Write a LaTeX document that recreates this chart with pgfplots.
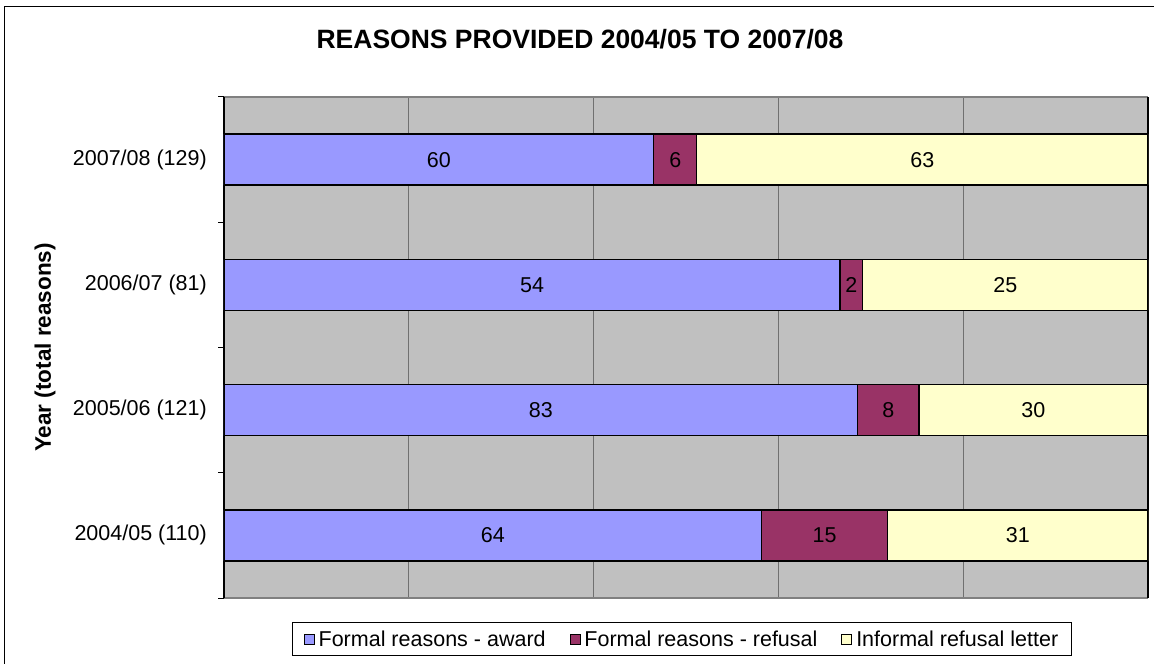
\documentclass[border=0pt]{standalone}
\usepackage{pgfplots}
\usepackage{pgfplotstable}
\usepackage{fontspec}
\setmainfont{Liberation Sans}
\pgfplotsset{compat=1.18}
\definecolor{award}{HTML}{9999FF}
\definecolor{refusal}{HTML}{993366}
\definecolor{informal}{HTML}{FFFFCC}
\definecolor{plotbg}{HTML}{C0C0C0}
\definecolor{gridc}{HTML}{707070}

% counts per year; bars are shown as shares of the total
\pgfplotstableread{
yr award refusal informal total
0  64   15      31       110
1  83   8       30       121
2  54   2       25       81
3  60   6       63       129
}\reasons

\pgfplotsset{
  frame/.style={
    at={(224pt,66pt)}, anchor=south west,
    scale only axis,
    width=924pt, height=501pt,
    xmin=0, xmax=100,
    ymin=-0.5, ymax=3.5,
  },
}

\begin{document}
\begin{tikzpicture}[x=1pt,y=1pt]
\useasboundingbox (0,0) rectangle (1154,664);
\draw[line width=1.3pt] (4.5,-20) -- (4.5,657.5) -- (1200,657.5);
\begin{axis}[
  frame,
  xbar stacked,
  bar width=51pt,
  xtick={0,20,...,100},
  xticklabels={},
  xmajorgrids,
  major grid style={draw=gridc, line width=1pt},
  ytick={0,1,2,3},
  yticklabels={2004/05 (110),2005/06 (121),2006/07 (81),2007/08 (129)},
  minor ytick={-0.5,0.5,1.5,2.5,3.5},
  tick pos=left,
  tick align=outside,
  major tick length=0pt,
  minor tick length=6pt,
  minor tick style={black, line width=1pt},
  separate axis lines,
  x axis line style={draw=gray, line width=1.2pt},
  y axis line style={draw=black, line width=1.2pt},
  axis background/.style={fill=plotbg},
  tick label style={font=\fontsize{21.5}{25}\selectfont},
  yticklabel style={anchor=east, inner sep=0pt, xshift=-17pt},
  ylabel={Year (total reasons)},
  ylabel style={at={(axis description cs:-0.1937,0.5)}, anchor=center,
    font=\fontsize{22.5}{26}\selectfont\bfseries},
  title={REASONS PROVIDED 2004/05 TO 2007/08},
  title style={at={(axis description cs:0.3853,1.1038)}, anchor=center,
    font=\fontsize{26.5}{30}\selectfont\bfseries},
  legend columns=-1,
  legend style={at={(0.4957,-0.0818)}, anchor=center, draw=black, line width=0.8pt,
    font=\fontsize{21.5}{25}\selectfont, inner xsep=11pt, inner ysep=6pt,
    /tikz/every odd column/.append style={column sep=2pt},
    /tikz/every even column/.append style={column sep=22pt}},
  legend image code/.code={\draw[#1, draw=black, line width=0.8pt] (0pt,-5pt) rectangle (10pt,5pt);},
]
\addplot+[fill=award, draw=black, line width=1.3pt]
  table[y=yr, x expr=\thisrow{award}*100/\thisrow{total}] {\reasons};
\addplot+[fill=refusal, draw=black, line width=1.3pt]
  table[y=yr, x expr=\thisrow{refusal}*100/\thisrow{total}] {\reasons};
\addplot+[fill=informal, draw=black, line width=1.3pt]
  table[y=yr, x expr=\thisrow{informal}*100/\thisrow{total}] {\reasons};
\legend{Formal reasons - award,Formal reasons - refusal,Informal refusal letter}
\end{axis}
% second axis, same frame, for the counts written in the middle of each segment
\begin{axis}[
  frame,
  hide axis,
  point meta=explicit,
  nodes near coords,
  nodes near coords style={font=\fontsize{21.5}{25}\selectfont, text=black,
    anchor=center, inner sep=0pt, /pgf/number format/assume math mode=true},
]
\addplot[only marks, mark=none]
  table[y=yr, x expr=\thisrow{award}*50/\thisrow{total}, meta=award] {\reasons};
\addplot[only marks, mark=none]
  table[y=yr, x expr=(\thisrow{award}+\thisrow{refusal}/2)*100/\thisrow{total}, meta=refusal] {\reasons};
\addplot[only marks, mark=none]
  table[y=yr, x expr=(\thisrow{award}+\thisrow{refusal}+\thisrow{informal}/2)*100/\thisrow{total}, meta=informal] {\reasons};
\end{axis}
\end{tikzpicture}
\end{document}
